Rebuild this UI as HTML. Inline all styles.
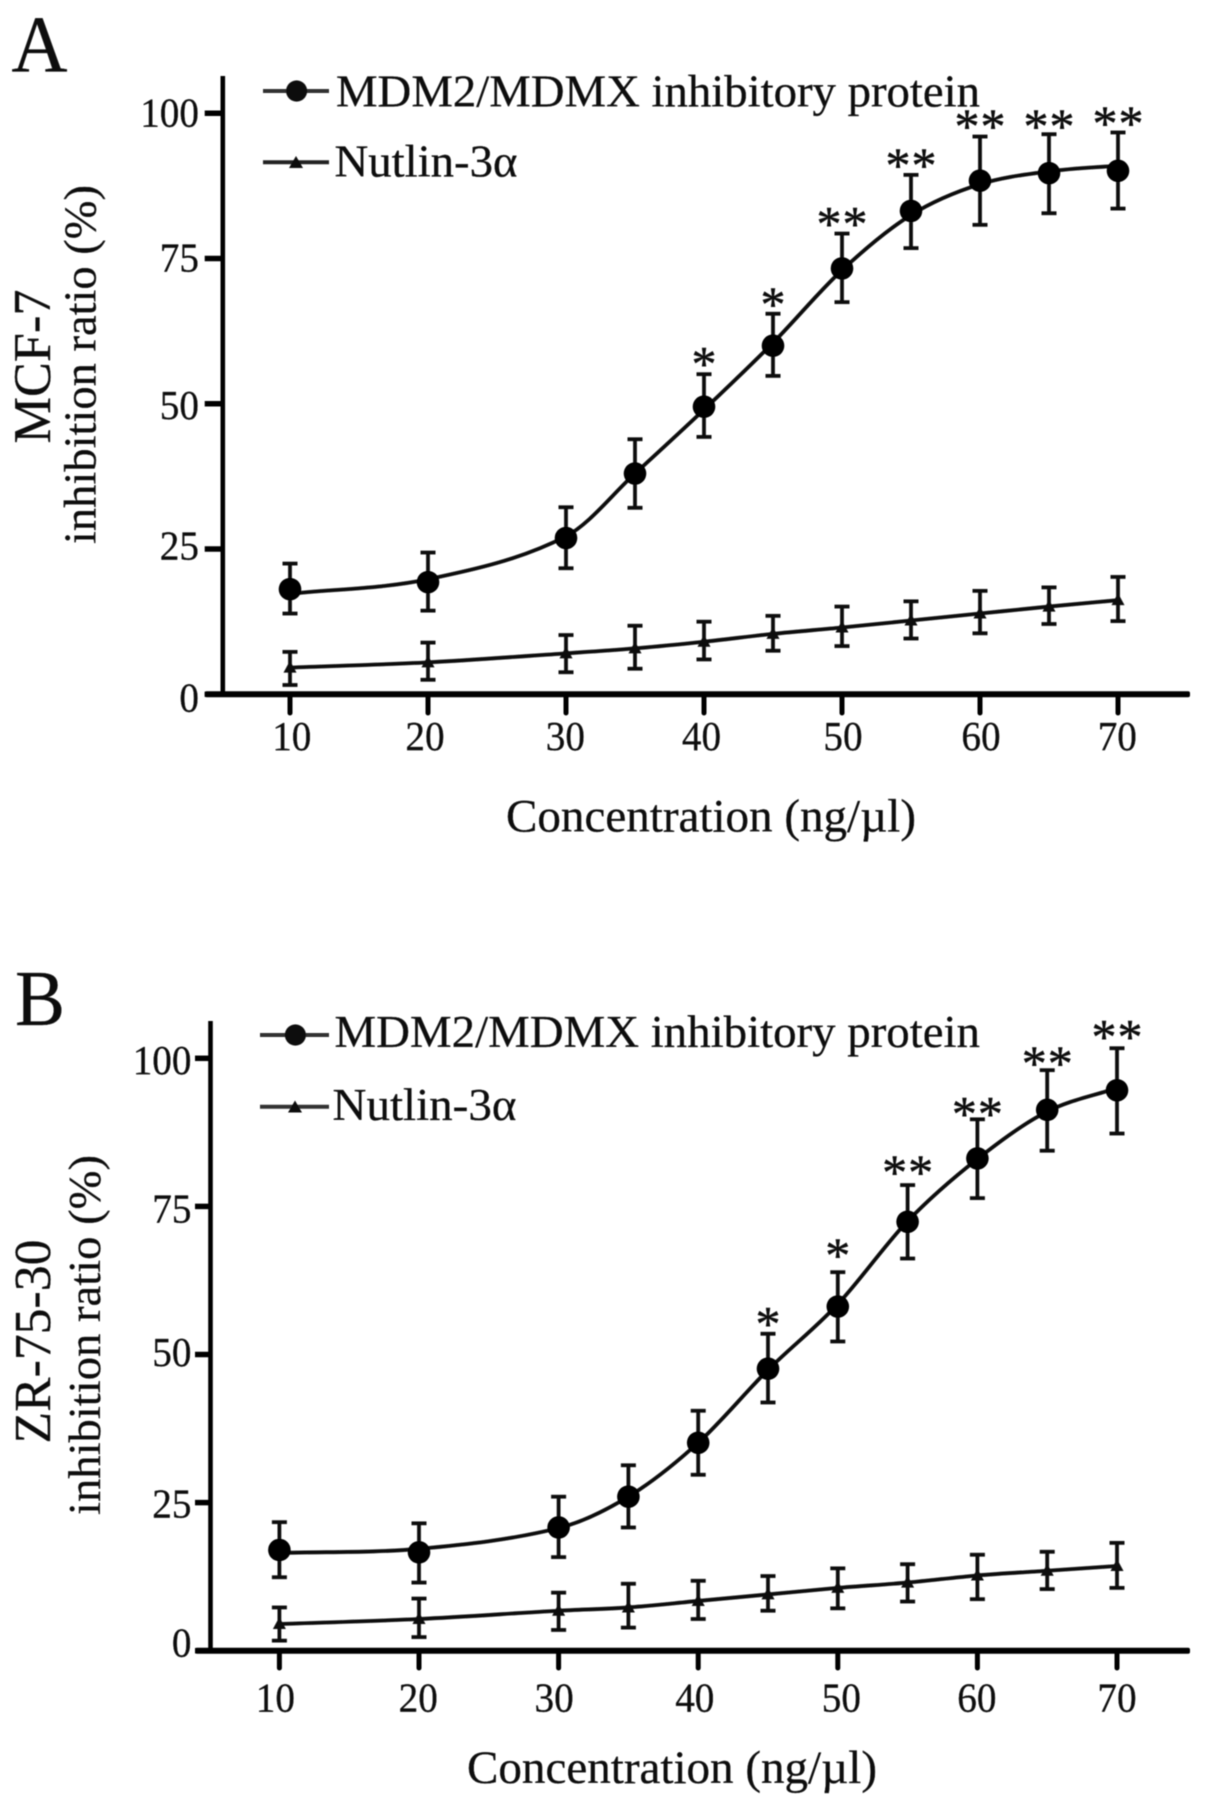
<!DOCTYPE html>
<html lang="en">
<head>
<meta charset="utf-8">
<title>Inhibition ratio charts</title>
<style>
html,body{margin:0;padding:0;background:#fff;}
svg{display:block;}
text{font-family:"Liberation Serif","DejaVu Serif",serif;fill:#0a0a0a;stroke:#0a0a0a;stroke-width:0.25px;}
</style>
</head>
<body>
<svg id="figure" xmlns="http://www.w3.org/2000/svg" width="1205" height="1806" viewBox="0 0 1205 1806">
<defs><filter id="soft" x="0" y="0" width="100%" height="100%" filterUnits="userSpaceOnUse" primitiveUnits="userSpaceOnUse"><feGaussianBlur stdDeviation="0.45"/></filter></defs>
<rect width="1205" height="1806" fill="#fff"/>
<g id="root" filter="url(#soft)">
  <g id="panel-a">
    <text x="11.5" y="71.7" font-size="80" textLength="56" lengthAdjust="spacingAndGlyphs">A</text>
    <text transform="translate(50,443.5) rotate(-90)" font-size="53" textLength="154" lengthAdjust="spacingAndGlyphs">MCF-7</text>
    <text transform="translate(95.7,544) rotate(-90)" font-size="45" textLength="359" lengthAdjust="spacingAndGlyphs">inhibition ratio (%)</text>
    <text x="506" y="831.7" font-size="47" textLength="410" lengthAdjust="spacingAndGlyphs">Concentration (ng/µl)</text>
    <rect x="220.5" y="76" width="4.6" height="621" fill="#050505"/>
    <rect x="204.7" y="691.3" width="985.3" height="6" rx="2" fill="#050505"/>
    <g>
      <line x1="263" x2="329" y1="91" y2="91" stroke="#333" stroke-width="4"/>
      <circle cx="296.6" cy="91" r="10.6" fill="#111"/>
      <text x="336" y="106.7" font-size="45" textLength="644" lengthAdjust="spacingAndGlyphs">MDM2/MDMX inhibitory protein</text>
      <line x1="263" x2="329" y1="162.3" y2="162.3" stroke="#222" stroke-width="4"/>
      <polygon points="296,156 303,168 289,168" fill="#111"/>
      <text x="334.5" y="176.7" font-size="45" textLength="183" lengthAdjust="spacingAndGlyphs">Nutlin-3α</text>
    </g>
  </g>
  <g id="panel-b">
    <text x="15" y="1025" font-size="79" textLength="50" lengthAdjust="spacingAndGlyphs">B</text>
    <text transform="translate(50,1443.5) rotate(-90)" font-size="52" textLength="204" lengthAdjust="spacingAndGlyphs">ZR-75-30</text>
    <text transform="translate(100,1515) rotate(-90)" font-size="45" textLength="360" lengthAdjust="spacingAndGlyphs">inhibition ratio (%)</text>
    <text x="467" y="1783" font-size="47" textLength="410" lengthAdjust="spacingAndGlyphs">Concentration (ng/µl)</text>
    <rect x="208.2" y="1021" width="4.6" height="632" fill="#050505"/>
    <rect x="195" y="1647.7" width="995" height="6" rx="2" fill="#050505"/>
    <g>
      <line x1="260" x2="329" y1="1035" y2="1035" stroke="#333" stroke-width="4"/>
      <circle cx="295.4" cy="1035" r="10.6" fill="#111"/>
      <text x="334.5" y="1047" font-size="45" textLength="645.5" lengthAdjust="spacingAndGlyphs">MDM2/MDMX inhibitory protein</text>
      <line x1="260" x2="329" y1="1106.7" y2="1106.7" stroke="#333" stroke-width="4"/>
      <polygon points="295,1100.5 302,1112.5 288,1112.5" fill="#111"/>
      <text x="332.5" y="1120" font-size="45" textLength="184" lengthAdjust="spacingAndGlyphs">Nutlin-3α</text>
    </g>
  </g>
</g>
</svg>
<script>
// Shared categories and tick labels
const concentrations = [10, 20, 30, 35, 40, 45, 50, 55, 60, 65, 70];
const xTickValues = [10, 20, 30, 40, 50, 60, 70];
const yTickValues = [0, 25, 50, 75, 100];

// Panel A (MCF-7)
const aProteinMean = [18.1, 19.3, 26.9, 38.0, 49.5, 60.0, 73.3, 83.2, 88.4, 89.7, 90.1];
const aProteinHigh = [22.5, 24.4, 32.2, 43.9, 55.1, 65.5, 79.3, 89.4, 96.0, 96.4, 96.7];
const aProteinLow = [13.9, 14.4, 21.7, 32.1, 44.3, 54.8, 67.5, 76.8, 80.8, 82.8, 83.6];
const aProteinFit = [17.3, 19.8, 27.2, 38.0, 49.0, 60.5, 73.0, 82.5, 87.8, 90.0, 91.0];
const aNutlinMean = [4.6, 5.5, 7.05, 7.9, 9.05, 10.4, 11.5, 12.7, 13.9, 15.1, 16.2];
const aNutlinHigh = [7.3, 8.9, 10.2, 11.8, 12.5, 13.5, 15.1, 16.0, 17.8, 18.4, 20.2];
const aNutlinLow = [1.6, 2.5, 3.8, 4.4, 6.0, 7.5, 8.3, 9.6, 10.5, 12.1, 12.6];
const aStarCounts = [0, 0, 0, 0, 1, 1, 2, 2, 2, 2, 2];
const aStarLevels = [0, 0, 0, 0, 58.1, 68.4, 82.2, 92.3, 99.0, 99.0, 99.5];

// Panel B (ZR-75-30)
const bProteinMean = [17.0, 16.6, 20.8, 26.0, 35.1, 47.6, 58.1, 72.4, 83.1, 91.3, 94.6];
const bProteinHigh = [21.7, 21.5, 26.0, 31.3, 40.5, 53.5, 63.9, 78.6, 89.7, 98.0, 101.7];
const bProteinLow = [12.4, 11.5, 15.8, 20.8, 29.7, 41.9, 52.2, 66.2, 76.4, 84.4, 87.3];
const bProteinFit = [16.5, 17.2, 20.7, 26.0, 35.1, 47.4, 58.5, 72.5, 83.0, 91.0, 95.0];
const bNutlinMean = [4.5, 5.35, 6.75, 7.3, 8.4, 9.5, 10.6, 11.5, 12.7, 13.5, 14.3];
const bNutlinHigh = [7.3, 8.8, 9.8, 11.3, 11.8, 12.6, 13.9, 14.6, 16.2, 16.7, 18.2];
const bNutlinLow = [1.7, 2.3, 3.5, 3.9, 5.35, 6.75, 7.15, 8.3, 8.7, 10.4, 10.6];
const bStarCounts = [0, 0, 0, 0, 0, 1, 1, 2, 2, 2, 2];
const bStarLevels = [0, 0, 0, 0, 0, 56.4, 68.0, 82.0, 91.9, 100.4, 104.9];

const SVG_NS = 'http://www.w3.org/2000/svg';

function make(parent, tag, attrs, name, content) {
  const el = document.createElementNS(SVG_NS, tag);
  Object.keys(attrs).forEach(function (k) { el.setAttribute(k, attrs[k]); });
  
  
  if (content !== undefined) el.textContent = content;
  parent.appendChild(el);
  return el;
}

// Cubic Hermite through the points, with tangents that respect uneven x spacing
function smoothPath(pts) {
  const slope = function (i) {
    const a = pts[Math.max(0, i - 1)];
    const b = pts[Math.min(pts.length - 1, i + 1)];
    return (b[1] - a[1]) / (b[0] - a[0]);
  };
  let d = 'M' + pts[0][0] + ' ' + pts[0][1];
  for (let i = 0; i < pts.length - 1; i++) {
    const p1 = pts[i];
    const p2 = pts[i + 1];
    const h = (p2[0] - p1[0]) / 3;
    d += ' C' + (p1[0] + h) + ' ' + (p1[1] + h * slope(i)) + ' ' + (p2[0] - h) + ' ' + (p2[1] - h * slope(i + 1)) + ' ' + p2[0] + ' ' + p2[1];
  }
  return d;
}

function drawErrorBars(parent, xs, high, low, xScale, yScale, name) {
  xs.forEach(function (c, i) {
    const x = xScale(c);
    const yTop = yScale(high[i]);
    const yBot = yScale(low[i]);
    make(parent, 'line', { x1: x, x2: x, y1: yTop, y2: yBot, stroke: '#111', 'stroke-width': 3.8 }, name + '-error-bar-' + c);
    make(parent, 'line', { x1: x - 7.5, x2: x + 7.5, y1: yTop, y2: yTop, stroke: '#111', 'stroke-width': 3.8 }, name + '-error-cap-high-' + c);
    make(parent, 'line', { x1: x - 7.5, x2: x + 7.5, y1: yBot, y2: yBot, stroke: '#111', 'stroke-width': 3.8 }, name + '-error-cap-low-' + c);
  });
}

function drawPanel(cfg) {
  const parent = document.getElementById(cfg.id);
  const xScale = function (v) { return cfg.x10 + (v - 10) * cfg.kx; };
  const yScale = function (v) { return cfg.y0 - v * cfg.ky; };
  const axisBottom = cfg.y0 + 3;

  yTickValues.forEach(function (v) {
    const y = yScale(v);
    make(parent, 'line', { x1: cfg.tickLeft, x2: cfg.axisX, y1: y, y2: y, stroke: '#050505', 'stroke-width': 5.5 }, 'y-tick-' + v);
    const label = String(v);
    const w = label.length * 19.6;
    make(parent, 'text', { x: cfg.labelRight + 1 - w, y: y + cfg.yLabelDy[v], 'font-size': 41, textLength: w, lengthAdjust: 'spacingAndGlyphs' }, 'y-tick-label-' + v, label);
  });

  xTickValues.forEach(function (v) {
    const x = xScale(v);
    make(parent, 'line', { x1: x, x2: x, y1: axisBottom - 2, y2: cfg.tickBottom, stroke: '#050505', 'stroke-width': 5, 'stroke-linecap': 'round' }, 'x-tick-' + v);
    make(parent, 'text', { x: x - 19.6 + cfg.xLabelNudge[v], y: cfg.xLabelY, 'font-size': 41, textLength: 39.2, lengthAdjust: 'spacingAndGlyphs' }, 'x-tick-label-' + v, String(v));
  });

  // Nutlin-3α series
  drawErrorBars(parent, concentrations, cfg.nutlinHigh, cfg.nutlinLow, xScale, yScale, 'nutlin');
  const nutlinPts = concentrations.map(function (c, i) { return [xScale(c), yScale(cfg.nutlinMean[i])]; });
  make(parent, 'path', { d: smoothPath(nutlinPts), fill: 'none', stroke: '#0a0a0a', 'stroke-width': 3.8 }, 'nutlin-line');
  nutlinPts.forEach(function (p, i) {
    const pts = [[p[0], p[1] - 7], [p[0] + 6.5, p[1] + 5], [p[0] - 6.5, p[1] + 5]].map(function (q) { return q.join(','); }).join(' ');
    make(parent, 'polygon', { points: pts, fill: '#0a0a0a' }, 'nutlin-point-' + concentrations[i]);
  });

  // MDM2/MDMX inhibitory protein series
  drawErrorBars(parent, concentrations, cfg.proteinHigh, cfg.proteinLow, xScale, yScale, 'protein');
  const fitPts = concentrations.map(function (c, i) { return [xScale(c), yScale(cfg.proteinFit[i])]; });
  make(parent, 'path', { d: smoothPath(fitPts), fill: 'none', stroke: '#0a0a0a', 'stroke-width': 3.8 }, 'protein-line');
  concentrations.forEach(function (c, i) {
    make(parent, 'circle', { cx: xScale(c), cy: yScale(cfg.proteinMean[i]), r: 11.3, fill: '#050505' }, 'protein-point-' + c);
  });

  // Significance stars
  concentrations.forEach(function (c, i) {
    const count = cfg.starCounts[i];
    for (let s = 0; s < count; s++) {
      const cx = xScale(c) + (s - (count - 1) / 2) * 26;
      const star = make(parent, 'text', { x: cx, y: yScale(cfg.starLevels[i]) + 24, 'font-size': 50, 'text-anchor': 'middle' }, 'significance-star-' + c, '*');
      star.style.strokeWidth = '0.5px';
    }
  });
}

drawPanel({
  id: 'panel-a', x10: 290, kx: 13.8, y0: 694.3, ky: 5.81, axisX: 222, tickLeft: 204.7, labelRight: 198,
  yLabelDy: { 0: 17.4, 25: 10.3, 50: 15.3, 75: 13, 100: 13.4 },
  xLabelNudge: { 10: 1.8, 20: -3, 30: -0.6, 40: -2.5, 50: 1, 60: 1, 70: -0.7 },
  tickBottom: 713, xLabelY: 750,
  proteinMean: aProteinMean, proteinHigh: aProteinHigh, proteinLow: aProteinLow, proteinFit: aProteinFit,
  nutlinMean: aNutlinMean, nutlinHigh: aNutlinHigh, nutlinLow: aNutlinLow,
  starCounts: aStarCounts, starLevels: aStarLevels
});
drawPanel({
  id: 'panel-b', x10: 279.4, kx: 13.96, y0: 1650.7, ky: 5.924, axisX: 210, tickLeft: 195, labelRight: 190.5,
  yLabelDy: { 0: 6, 25: 14.7, 50: 11.7, 75: 16, 100: 15.7 },
  xLabelNudge: { 10: -4, 20: -0.8, 30: -4.5, 40: -3.4, 50: 3.6, 60: -0.5, 70: 0 },
  tickBottom: 1668, xLabelY: 1711.7,
  proteinMean: bProteinMean, proteinHigh: bProteinHigh, proteinLow: bProteinLow, proteinFit: bProteinFit,
  nutlinMean: bNutlinMean, nutlinHigh: bNutlinHigh, nutlinLow: bNutlinLow,
  starCounts: bStarCounts, starLevels: bStarLevels
});
</script>
</body>
</html>
